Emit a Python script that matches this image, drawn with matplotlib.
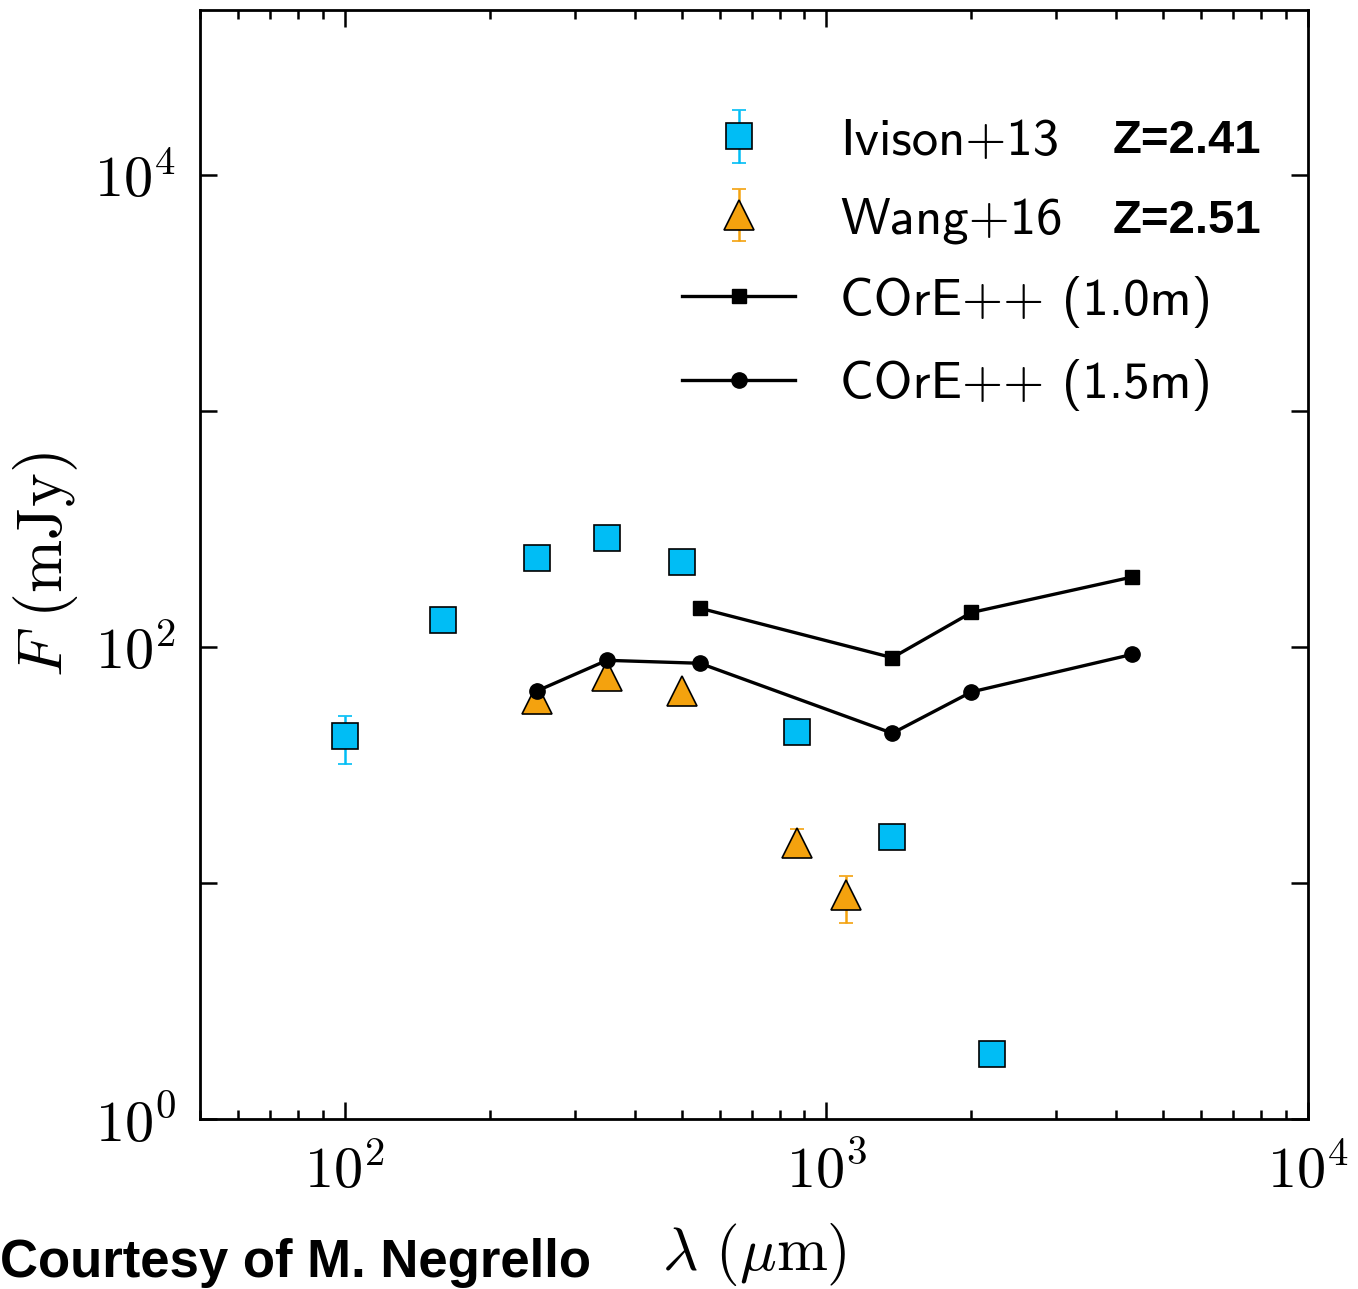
import numpy as np
import matplotlib
matplotlib.use("Agg")
import matplotlib.pyplot as plt
from matplotlib.ticker import FixedLocator, FuncFormatter, LogLocator, NullLocator

plt.rcParams['mathtext.fontset'] = 'cm'

# ---------------- data ----------------
ivison_wl = [100, 160, 250, 350, 500, 870, 1370, 2210]
ivison_flux = [42, 130, 239, 290, 229, 43.6, 15.6, 1.88]
ivison_err_lo = [10, 0, 0, 0, 0, 0, 0, 0]
ivison_err_hi = [9, 0, 0, 0, 0, 0, 0, 0]

wang_wl = [250, 350, 500, 870, 1100]
wang_flux = [60, 75, 65.4, 14.8, 8.9]
wang_err_lo = [0, 0, 0, 1.5, 2.1]
wang_err_hi = [0, 0, 0, 2.2, 1.8]

core10_wl = [546, 1370, 2000, 4320]
core10_flux = [146, 90.1, 140, 198]

core15_wl = [250, 350, 546, 1370, 2000, 4320]
core15_flux = [65, 87.8, 85.3, 43.1, 64.5, 93.1]

labels = ['Ivison+13', 'Wang+16', 'COrE++ (1.0m)', 'COrE++ (1.5m)']
redshift_texts = ['Z=2.41', 'Z=2.51']

# ---------------- figure ----------------
W, H = 1358, 1289
fig = plt.figure(figsize=(W / 100, H / 100), dpi=100)
ax = fig.add_axes([200 / W, 1 - 1119 / H, 1108 / W, 1109 / H])

cyan = '#00BDF5'
orange = '#F4A20E'

h1 = ax.errorbar(ivison_wl, ivison_flux, yerr=[ivison_err_lo, ivison_err_hi],
                 fmt='s', ms=19, mfc=cyan, mec='black', mew=1.2,
                 ecolor=cyan, elinewidth=1.8, capsize=5, capthick=1.8,
                 label=labels[0], zorder=3)
h2 = ax.errorbar(wang_wl, wang_flux, yerr=[wang_err_lo, wang_err_hi],
                 fmt='^', ms=22, mfc=orange, mec='black', mew=1.2,
                 ecolor=orange, elinewidth=1.8, capsize=5, capthick=1.8,
                 label=labels[1], zorder=3)
h3, = ax.plot(core10_wl, core10_flux, '-s', color='black', lw=2.4, ms=10.5,
              label=labels[2], zorder=4)
h4, = ax.plot(core15_wl, core15_flux, '-o', color='black', lw=2.4, ms=11,
              label=labels[3], zorder=4)

ax.set_xscale('log')
ax.set_yscale('log')
ax.set_xlim(50, 1e4)
ax.set_ylim(1, 5e4)

# ticks
ax.xaxis.set_major_locator(FixedLocator([1e2, 1e3, 1e4]))
ax.xaxis.set_minor_locator(LogLocator(base=10, subs=np.arange(2, 10), numticks=20))
ax.yaxis.set_major_locator(FixedLocator([1, 10, 100, 1000, 10000]))
ax.yaxis.set_minor_locator(NullLocator())


def xfmt(v, pos):
    return r'$10^{%d}$' % int(round(np.log10(v)))


def yfmt(v, pos):
    e = int(round(np.log10(v)))
    return r'$10^{%d}$' % e if e % 2 == 0 else ''


ax.xaxis.set_major_formatter(FuncFormatter(xfmt))
ax.yaxis.set_major_formatter(FuncFormatter(yfmt))
ax.xaxis.set_minor_formatter(FuncFormatter(lambda v, p: ''))

ax.tick_params(which='both', direction='in', top=True, right=True, width=1.8,
               labelsize=42, pad=17)
ax.tick_params(which='major', length=12)
ax.tick_params(which='minor', length=6.5)
for s in ax.spines.values():
    s.set_linewidth(2)

ax.set_xlabel(r'$\lambda\ (\mu\mathrm{m})$', fontsize=44)
ax.set_ylabel(r'$F\ (\mathrm{mJy})$', fontsize=46)
ax.xaxis.set_label_coords(0.5, -0.092)
ax.yaxis.set_label_coords(-0.108, 0.5)

leg = ax.legend(handles=[h1, h2, h3, h4], labels=labels, loc='upper left',
                bbox_to_anchor=(682 / W, 1 - 118 / H), bbox_transform=fig.transFigure,
                frameon=False, numpoints=1, handlelength=2.15,
                handletextpad=0.85, labelspacing=0.6, borderpad=0, borderaxespad=0,
                prop={'family': 'cmss10', 'size': 38})

for txt, yc in zip(redshift_texts, [141, 221]):
    fig.text(1113 / W, 1 - yc / H, txt, fontsize=34, fontweight='bold',
             family='Liberation Sans', ha='left', va='center')

fig.text(0.0, 1 - 1277 / H, 'Courtesy of M. Negrello', fontsize=38,
         fontweight='bold', family='Liberation Sans', ha='left', va='baseline')

fig.savefig('out.png', dpi=100)
